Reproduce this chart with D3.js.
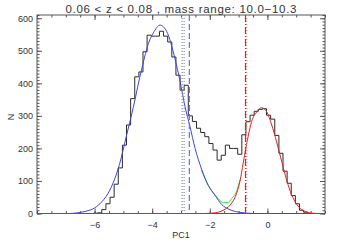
<!DOCTYPE html>
<html>
<head>
<meta charset="utf-8">
<script src="https://cdn.jsdelivr.net/npm/d3@7"></script>
<style>
  body { margin: 0; background: #fff; }
  text { font-family: "Liberation Sans", Arial, sans-serif; fill: #333; }
</style>
</head>
<body>
<div id="chart"></div>
<script>
// Histogram of PC1 (bins of equal width, counts)
const binStart = -6.036;
const binWidth = 0.143;
const counts = [1, 2, 12, 30, 50, 90, 140, 210, 272, 353, 420, 435, 497, 548, 545, 545,
    560, 545, 527, 481, 425, 379, 394, 300, 283, 262, 249, 236, 215, 195, 164, 179,
    210, 200, 200, 182, 242, 282, 302, 314, 320, 322, 302, 290, 240, 185, 130, 93,
    55, 30, 10, 4];

// Fitted curves
const blueX = [-8.0, -6.9, -6.6, -6.3, -6.0, -5.75, -5.47, -5.14, -4.89, -4.66, -4.36, -4.1,
    -3.96, -3.73, -3.5, -3.21, -3.03, -2.86, -2.69, -2.51, -2.28, -2.05, -1.82, -1.58,
    -1.36, -1.1, -0.8, -0.4, 2.0];
const blueY = [0, 0, 2, 7, 17, 36, 72, 150, 240, 325, 446, 530, 555, 579, 560, 476, 405,
    328, 268, 200, 135, 86, 56, 27, 14, 6, 2, 0, 0];

const redX = [-8.0, -2.2, -1.82, -1.58, -1.47, -1.36, -1.24, -1.07, -0.95, -0.84, -0.66,
    -0.55, -0.37, -0.2, -0.02, 0.15, 0.32, 0.5, 0.67, 0.84, 1.02, 1.19, 1.35, 1.55, 1.75, 2.0];
const redY = [0, 0, 2, 8, 13, 20, 32, 62, 100, 155, 241, 282, 312, 325, 312, 272, 220,
    159, 102, 58, 28, 12, 5, 1, 0, 0];

const greenX = [-2.3, -2.05, -1.82, -1.7, -1.58, -1.47, -1.36, -1.24, -1.07, -0.95];
const greenY = [135, 86, 58, 45, 35, 33, 34, 46, 68, 104];

// Vertical markers
const markers = [
    { x: -2.96, color: "#8a8a8a", dash: "1,2" },
    { x: -2.89, color: "#8c8cf0", dash: "1,2" },
    { x: -2.71, color: "#6e6ee6", dash: "6,3" },
    { x: -0.72, color: "#f29090", dash: "1,2" },
    { x: -0.76, color: "#e52020", dash: "7,2,1,2" }
];

const xTicks = [-6, -4, -2, 0];
const yTicks = [0, 100, 200, 300, 400, 500, 600];

const titleText = "0.06 < z < 0.08 , mass range: 10.0\u221210.3";
const xLabel = "PC1";
const yLabel = "N";

const W = 341, H = 243;
const mLeft = 37, mRight = 325, mTop = 15, mBottom = 213.5;

const svg = d3.select("#chart").append("svg")
    .attr("width", W)
    .attr("height", H);

svg.append("rect").attr("width", W).attr("height", H).attr("fill", "#fff");

const xScale = d3.scaleLinear().domain([-8, 2]).range([mLeft, mRight]);
const yScale = d3.scaleLinear().domain([0, 610]).range([mBottom, mTop]);

// axes (ticks point inward, on all four sides)
const xMinor = d3.range(-8, 2.01, 0.5);
const yMinor = d3.range(0, 611, 10);

function styleAxis(g) {
    g.select(".domain").remove();
    g.selectAll("line").attr("stroke", "#555");
    g.selectAll("text").attr("font-size", "9px").attr("fill", "#444")
        .style("font-family", "'Liberation Sans', Arial, sans-serif");
}

svg.append("g").attr("transform", "translate(0," + mBottom + ")")
    .call(d3.axisBottom(xScale).tickValues(xMinor).tickSize(-2.5).tickFormat(""))
    .call(styleAxis);
svg.append("g").attr("transform", "translate(0," + mBottom + ")")
    .call(d3.axisBottom(xScale).tickValues(xTicks).tickSize(-5).tickPadding(8))
    .call(styleAxis);
svg.append("g").attr("transform", "translate(0," + mTop + ")")
    .call(d3.axisTop(xScale).tickValues(xMinor).tickSize(-2.5).tickFormat(""))
    .call(styleAxis);
svg.append("g").attr("transform", "translate(0," + mTop + ")")
    .call(d3.axisTop(xScale).tickValues(xTicks).tickSize(-5).tickFormat(""))
    .call(styleAxis);

svg.append("g").attr("transform", "translate(" + mLeft + ",0)")
    .call(d3.axisLeft(yScale).tickValues(yMinor).tickSize(-2.5).tickFormat(""))
    .call(styleAxis);
svg.append("g").attr("transform", "translate(" + mLeft + ",0)")
    .call(d3.axisLeft(yScale).tickValues(yTicks).tickSize(-5).tickPadding(4))
    .call(styleAxis);
svg.append("g").attr("transform", "translate(" + mRight + ",0)")
    .call(d3.axisRight(yScale).tickValues(yMinor).tickSize(-2.5).tickFormat(""))
    .call(styleAxis);
svg.append("g").attr("transform", "translate(" + mRight + ",0)")
    .call(d3.axisRight(yScale).tickValues(yTicks).tickSize(-5).tickFormat(""))
    .call(styleAxis);

// frame
svg.append("rect")
    .attr("x", mLeft).attr("y", mTop)
    .attr("width", mRight - mLeft).attr("height", mBottom - mTop)
    .attr("fill", "none").attr("stroke", "#555").attr("stroke-width", 1);

// histogram as a step line
let histPts = [[binStart, 0]];
counts.forEach((c, i) => {
    histPts.push([binStart + i * binWidth, c]);
    histPts.push([binStart + (i + 1) * binWidth, c]);
});
histPts.push([binStart + counts.length * binWidth, 0]);

svg.append("path")
    .datum(histPts)
    .attr("fill", "none")
    .attr("stroke", "#2a2a2a")
    .attr("stroke-width", 1)
    .attr("d", d3.line().x(d => xScale(d[0])).y(d => yScale(d[1])));

const curve = d3.line()
    .x(d => xScale(d[0]))
    .y(d => yScale(d[1]))
    .curve(d3.curveMonotoneX);

// green (sum) first, then blue and red on top
svg.append("path")
    .datum(d3.zip(greenX, greenY))
    .attr("fill", "none").attr("stroke", "#2ee62e").attr("stroke-width", 1)
    .attr("d", curve);

svg.append("path")
    .datum(d3.zip(blueX, blueY))
    .attr("fill", "none").attr("stroke", "#4242dc").attr("stroke-width", 1)
    .attr("d", curve);

svg.append("path")
    .datum(d3.zip(redX, redY))
    .attr("fill", "none").attr("stroke", "#e82020").attr("stroke-width", 1)
    .attr("d", curve);

// vertical marker lines
svg.selectAll(".marker")
    .data(markers)
    .enter().append("line")
    .attr("class", "marker")
    .attr("x1", d => xScale(d.x)).attr("x2", d => xScale(d.x))
    .attr("y1", mTop).attr("y2", mBottom)
    .attr("stroke", d => d.color)
    .attr("stroke-width", 1.2)
    .attr("stroke-dasharray", d => d.dash);

// labels
svg.append("text")
    .attr("x", (mLeft + mRight) / 2)
    .attr("y", 13)
    .attr("text-anchor", "middle")
    .attr("font-size", "11.5px")
    .attr("fill", "#444")
    .attr("textLength", 231)
    .attr("lengthAdjust", "spacing")
    .text(titleText);

svg.append("text")
    .attr("x", (mLeft + mRight) / 2)
    .attr("y", 238)
    .attr("text-anchor", "middle")
    .attr("font-size", "9px")
    .attr("fill", "#444")
    .text(xLabel);

svg.append("text")
    .attr("transform", "translate(14,117) rotate(-90)")
    .attr("text-anchor", "middle")
    .attr("font-size", "9px")
    .attr("fill", "#444")
    .text(yLabel);
</script>
</body>
</html>
